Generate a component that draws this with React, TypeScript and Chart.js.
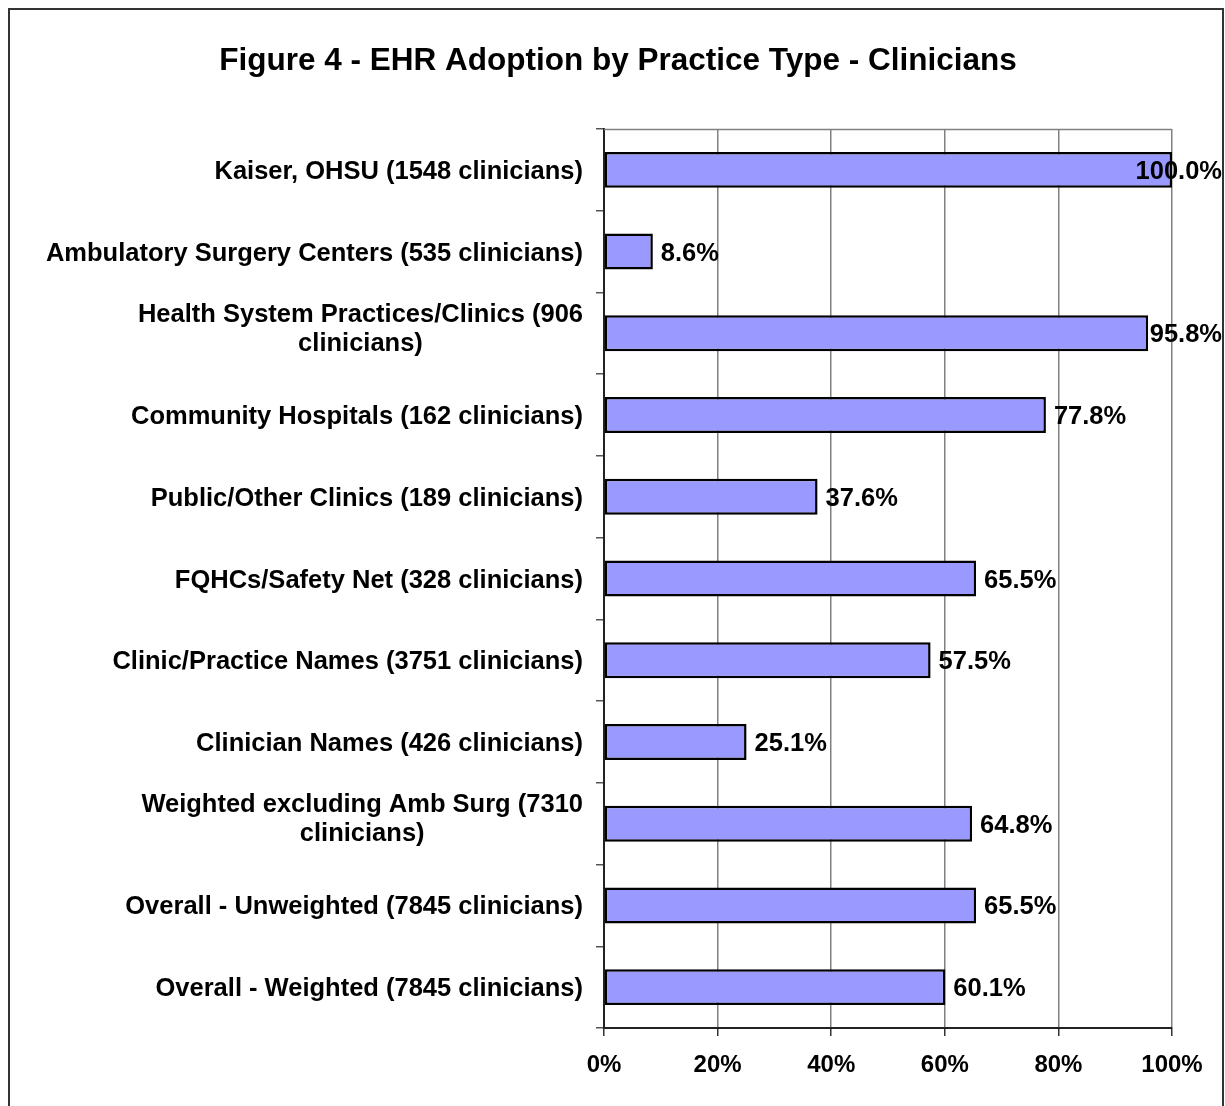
import React, { useEffect, useRef } from "react";
import { Chart, registerables } from "chart.js";

Chart.register(...registerables);

const chartTitle = "Figure 4 - EHR Adoption by Practice Type - Clinicians";

const categories: (string | string[])[] = [
  "Kaiser, OHSU (1548 clinicians)",
  "Ambulatory Surgery Centers (535 clinicians)",
  ["Health System Practices/Clinics (906", "clinicians)"],
  "Community Hospitals (162 clinicians)",
  "Public/Other Clinics (189 clinicians)",
  "FQHCs/Safety Net (328 clinicians)",
  "Clinic/Practice Names (3751 clinicians)",
  "Clinician Names (426 clinicians)",
  ["Weighted excluding Amb Surg (7310", "clinicians)"],
  "Overall - Unweighted (7845 clinicians)",
  "Overall - Weighted (7845 clinicians)",
];

const adoptionPct = [100.0, 8.6, 95.8, 77.8, 37.6, 65.5, 57.5, 25.1, 64.8, 65.5, 60.1];

const xTickValues = [0, 20, 40, 60, 80, 100];

const FONT = '"Liberation Sans", Arial, Helvetica, sans-serif';

const decorPlugin = {
  id: "decor",
  beforeDraw(chart: any) {
    const ctx = chart.ctx;
    ctx.save();
    ctx.fillStyle = "#ffffff";
    ctx.fillRect(0, 0, chart.width, chart.height);
    ctx.strokeStyle = "#333333";
    ctx.lineWidth = 2;
    ctx.beginPath();
    ctx.moveTo(9, chart.height + 5);
    ctx.lineTo(9, 9);
    ctx.lineTo(1223, 9);
    ctx.lineTo(1223, chart.height + 5);
    ctx.stroke();
    ctx.restore();
  },
  beforeDatasetsDraw(chart: any) {
    const ctx = chart.ctx;
    const a = chart.chartArea;
    ctx.save();
    ctx.strokeStyle = "#808080";
    ctx.lineWidth = 1.5;
    ctx.beginPath();
    ctx.moveTo(a.left, Math.round(a.top) + 0.5);
    ctx.lineTo(a.right, Math.round(a.top) + 0.5);
    ctx.stroke();
    ctx.restore();
  },
  afterDraw(chart: any) {
    const ctx = chart.ctx;
    const a = chart.chartArea;
    ctx.save();
    // title
    ctx.fillStyle = "#000";
    ctx.font = `bold 31.5px ${FONT}`;
    ctx.textAlign = "center";
    ctx.textBaseline = "middle";
    ctx.fillText(chartTitle, 618, 61);

    // category labels
    const yScale = chart.scales.y;
    ctx.font = `bold 25.5px ${FONT}`;
    const lineH = 29;
    const rightEdge = a.left - 21;
    categories.forEach((lab, i) => {
      const lines = Array.isArray(lab) ? lab : [lab];
      const w = Math.max(...lines.map((l) => ctx.measureText(l).width));
      const cx = rightEdge - w / 2;
      const cy = yScale.getPixelForValue(i) + (lines.length > 1 ? -4 : 2);
      ctx.textAlign = "center";
      lines.forEach((l, j) => {
        ctx.fillText(l, cx, cy + (j - (lines.length - 1) / 2) * lineH);
      });
    });

    // data labels
    const meta = chart.getDatasetMeta(0);
    ctx.textAlign = "left";
    meta.data.forEach((bar: any, i: number) => {
      const txt = adoptionPct[i].toFixed(1) + "%";
      const w = ctx.measureText(txt).width;
      let x = bar.x + 8;
      if (x + w > chart.width - 3) x = chart.width - 3 - w;
      ctx.fillText(txt, x, bar.y + 2);
    });
    ctx.restore();
  },
};

export default function App() {
  const ref = useRef<HTMLCanvasElement>(null);
  useEffect(() => {
    if (!ref.current) return;
    const chart = new Chart(ref.current, {
      type: "bar",
      data: {
        labels: categories,
        datasets: [
          {
            data: adoptionPct,
            backgroundColor: "#9999FF",
            borderColor: "#000000",
            borderWidth: 2.5,
            borderSkipped: false,
            categoryPercentage: 1,
            barPercentage: 0.44,
          },
        ],
      },
      options: {
        indexAxis: "y",
        responsive: false,
        animation: false,
        layout: { padding: { left: 0, right: 53, top: 129, bottom: 0 } },
        plugins: {
          legend: { display: false },
          title: { display: false },
          tooltip: { enabled: false },
        },
        scales: {
          x: {
            type: "linear",
            min: 0,
            max: 100,
            afterBuildTicks(scale: any) {
              scale.ticks = xTickValues.map((v) => ({ value: v }));
            },
            afterFit(scale: any) {
              scale.height = 78;
            },
            ticks: {
              callback: (v: any) => v + "%",
              color: "#000",
              font: { family: FONT, size: 24, weight: "bold" },
              padding: 15,
              maxRotation: 0,
            },
            grid: {
              color: "#808080",
              lineWidth: 1.5,
              tickColor: "#333333",
              tickLength: 8,
              drawTicks: true,
            },
            border: { color: "#222222", width: 2 },
          },
          y: {
            type: "category",
            afterFit(scale: any) {
              scale.width = 604;
            },
            ticks: { display: false },
            grid: {
              offset: true,
              drawOnChartArea: false,
              drawTicks: true,
              tickLength: 8,
              tickColor: "#555555",
              lineWidth: 1.5,
            },
            border: { color: "#222222", width: 2 },
          },
        },
      },
      plugins: [decorPlugin],
    });
    return () => chart.destroy();
  }, []);
  return (
    <div style={{ position: "fixed", left: 0, top: 0, width: 1225, height: 1106 }}>
      <canvas ref={ref} width={1225} height={1106} style={{ width: 1225, height: 1106, display: "block" }} />
    </div>
  );
}
